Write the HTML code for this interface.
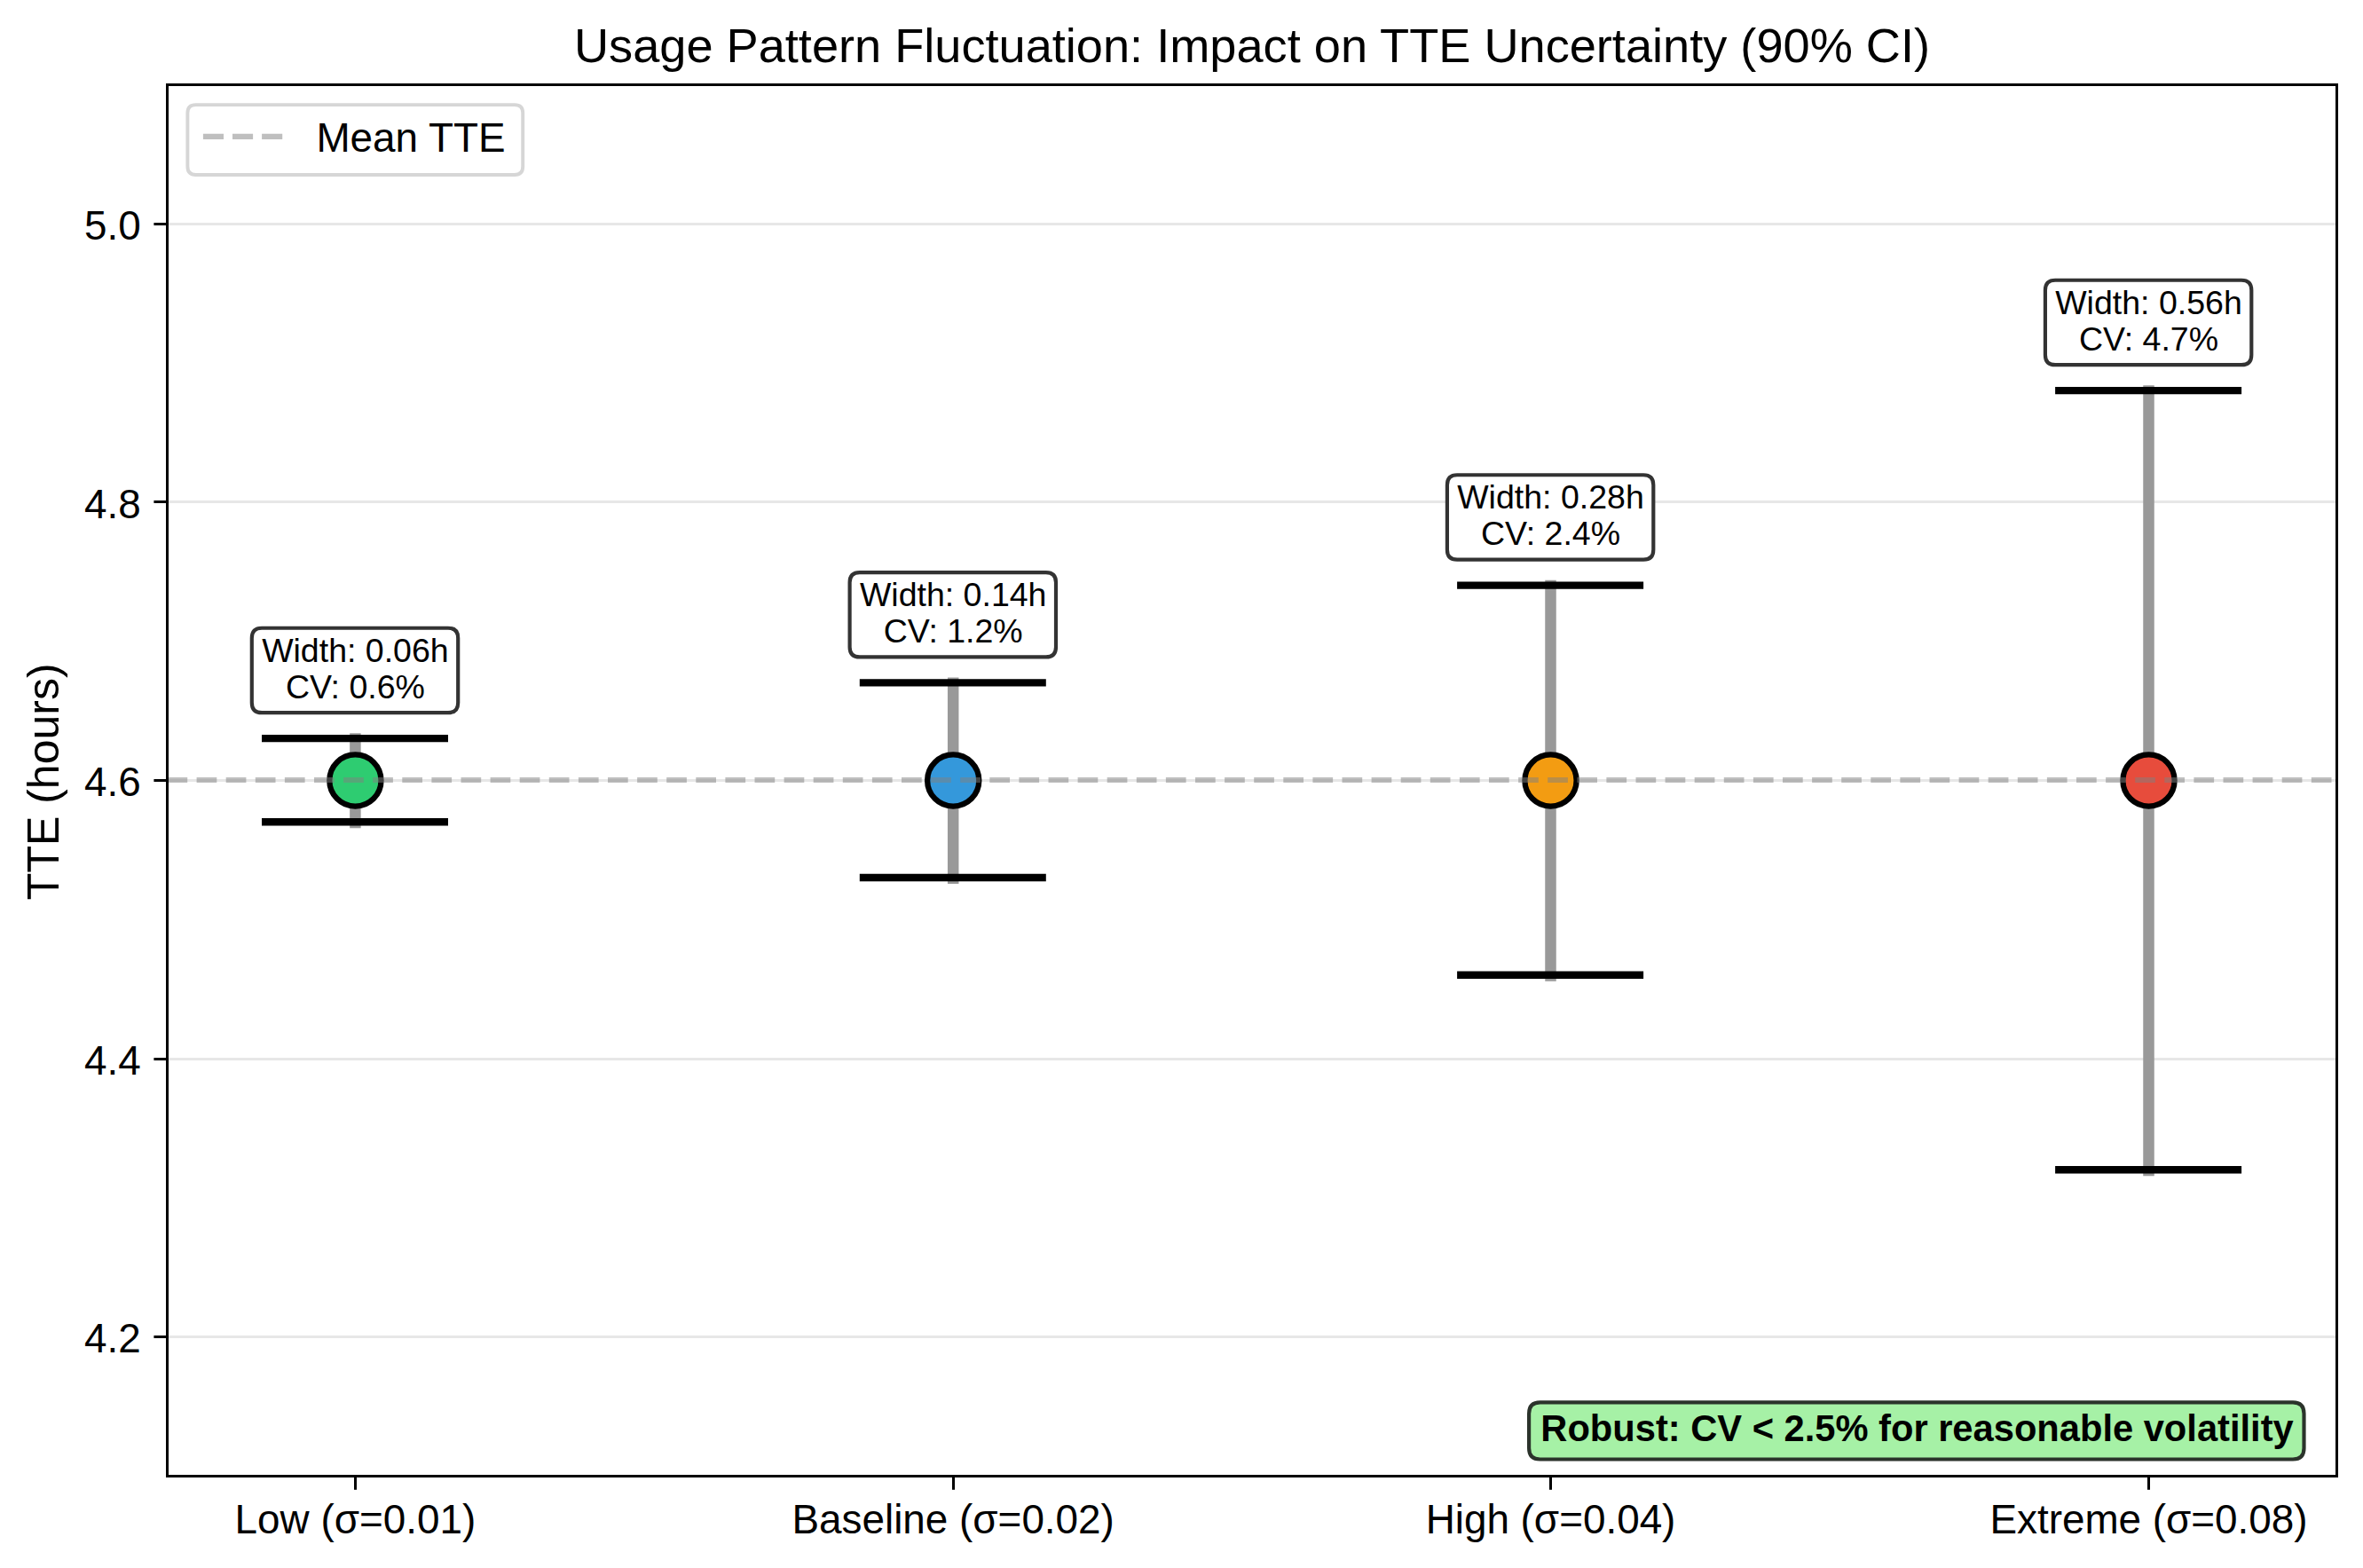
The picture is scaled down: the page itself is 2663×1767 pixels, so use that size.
<!DOCTYPE html>
<html lang="en"><head><meta charset="utf-8"><title>Usage Pattern Fluctuation</title>
<style>html,body{margin:0;padding:0;background:#fff}body{width:2663px;height:1767px;overflow:hidden}svg{display:block}text{font-family:'Liberation Sans', sans-serif;fill:#000}</style>
</head><body>
<svg width="2663" height="1767" viewBox="0 0 2663 1767">
<rect x="0" y="0" width="2663" height="1767" fill="#ffffff"/>
<g stroke="#e7e7e7" stroke-width="3" fill="none">
<line x1="188.50" y1="1506.50" x2="2633.50" y2="1506.50"/>
<line x1="188.50" y1="1193.50" x2="2633.50" y2="1193.50"/>
<line x1="188.50" y1="879.50" x2="2633.50" y2="879.50"/>
<line x1="188.50" y1="565.50" x2="2633.50" y2="565.50"/>
<line x1="188.50" y1="252.50" x2="2633.50" y2="252.50"/>
</g>
<g>
<line x1="400.40" y1="826.16" x2="400.40" y2="933.24" stroke="#999999" stroke-width="12.5"/>
<line x1="295.00" y1="832.16" x2="505.00" y2="832.16" stroke="#000" stroke-width="8.33"/>
<line x1="295.00" y1="926.24" x2="505.00" y2="926.24" stroke="#000" stroke-width="8.33"/>
<circle cx="400.40" cy="879.50" r="29.1" fill="#2ecc71" stroke="#000" stroke-width="6.3"/>
</g>
<g>
<line x1="1074.20" y1="763.44" x2="1074.20" y2="995.96" stroke="#999999" stroke-width="12.5"/>
<line x1="968.80" y1="769.44" x2="1178.80" y2="769.44" stroke="#000" stroke-width="8.33"/>
<line x1="968.80" y1="988.96" x2="1178.80" y2="988.96" stroke="#000" stroke-width="8.33"/>
<circle cx="1074.20" cy="879.50" r="29.1" fill="#3498db" stroke="#000" stroke-width="6.3"/>
</g>
<g>
<line x1="1747.50" y1="653.68" x2="1747.50" y2="1105.72" stroke="#999999" stroke-width="12.5"/>
<line x1="1642.10" y1="659.68" x2="1852.10" y2="659.68" stroke="#000" stroke-width="8.33"/>
<line x1="1642.10" y1="1098.72" x2="1852.10" y2="1098.72" stroke="#000" stroke-width="8.33"/>
<circle cx="1747.50" cy="879.50" r="29.1" fill="#f39c12" stroke="#000" stroke-width="6.3"/>
</g>
<g>
<line x1="2421.50" y1="434.16" x2="2421.50" y2="1325.24" stroke="#999999" stroke-width="12.5"/>
<line x1="2316.10" y1="440.16" x2="2526.10" y2="440.16" stroke="#000" stroke-width="8.33"/>
<line x1="2316.10" y1="1318.24" x2="2526.10" y2="1318.24" stroke="#000" stroke-width="8.33"/>
<circle cx="2421.50" cy="879.50" r="29.1" fill="#e74c3c" stroke="#000" stroke-width="6.3"/>
</g>
<line x1="188.50" y1="879.00" x2="2633.50" y2="879.00" stroke="#808080" stroke-opacity="0.5" stroke-width="6" stroke-dasharray="22.7 10.4"/>
<g>
<path d="M295.05 707.76L504.95 707.76Q516.20 707.76 516.20 719.01L516.20 791.91Q516.20 803.16 504.95 803.16L295.05 803.16Q283.80 803.16 283.80 791.91L283.80 719.01Q283.80 707.76 295.05 707.76Z" fill="#ffffff" stroke="#333333" stroke-width="4.17" stroke-linejoin="miter"/>
<text x="400.40" y="745.96" font-size="37.5" text-anchor="middle">Width: 0.06h</text>
<text x="400.40" y="786.51" font-size="37.5" text-anchor="middle">CV: 0.6%</text>
</g>
<g>
<path d="M968.85 645.04L1178.75 645.04Q1190.00 645.04 1190.00 656.29L1190.00 729.19Q1190.00 740.44 1178.75 740.44L968.85 740.44Q957.60 740.44 957.60 729.19L957.60 656.29Q957.60 645.04 968.85 645.04Z" fill="#ffffff" stroke="#333333" stroke-width="4.17" stroke-linejoin="miter"/>
<text x="1074.20" y="683.24" font-size="37.5" text-anchor="middle">Width: 0.14h</text>
<text x="1074.20" y="723.79" font-size="37.5" text-anchor="middle">CV: 1.2%</text>
</g>
<g>
<path d="M1642.15 535.28L1852.05 535.28Q1863.30 535.28 1863.30 546.53L1863.30 619.43Q1863.30 630.68 1852.05 630.68L1642.15 630.68Q1630.90 630.68 1630.90 619.43L1630.90 546.53Q1630.90 535.28 1642.15 535.28Z" fill="#ffffff" stroke="#333333" stroke-width="4.17" stroke-linejoin="miter"/>
<text x="1747.50" y="573.48" font-size="37.5" text-anchor="middle">Width: 0.28h</text>
<text x="1747.50" y="614.03" font-size="37.5" text-anchor="middle">CV: 2.4%</text>
</g>
<g>
<path d="M2316.15 315.76L2526.05 315.76Q2537.30 315.76 2537.30 327.01L2537.30 399.91Q2537.30 411.16 2526.05 411.16L2316.15 411.16Q2304.90 411.16 2304.90 399.91L2304.90 327.01Q2304.90 315.76 2316.15 315.76Z" fill="#ffffff" stroke="#333333" stroke-width="4.17" stroke-linejoin="miter"/>
<text x="2421.50" y="353.96" font-size="37.5" text-anchor="middle">Width: 0.56h</text>
<text x="2421.50" y="394.51" font-size="37.5" text-anchor="middle">CV: 4.7%</text>
</g>
<path d="M1735.60 1580.40L2584.00 1580.40Q2596.50 1580.40 2596.50 1592.90L2596.50 1632.00Q2596.50 1644.50 2584.00 1644.50L1735.60 1644.50Q1723.10 1644.50 1723.10 1632.00L1723.10 1592.90Q1723.10 1580.40 1735.60 1580.40Z" fill="#a6f1a6" stroke="#2b332b" stroke-width="4.17" stroke-linejoin="miter"/>
<text x="1736.3" y="1624.2" font-size="41.67" font-weight="bold">Robust: CV &lt; 2.5% for reasonable volatility</text>
<rect x="188.50" y="95.50" width="2445.00" height="1568.00" fill="none" stroke="#000" stroke-width="3"/>
<g stroke="#000" stroke-width="3">
<line x1="173.40" y1="1506.50" x2="188.50" y2="1506.50"/>
<line x1="173.40" y1="1193.50" x2="188.50" y2="1193.50"/>
<line x1="173.40" y1="879.50" x2="188.50" y2="879.50"/>
<line x1="173.40" y1="565.50" x2="188.50" y2="565.50"/>
<line x1="173.40" y1="252.50" x2="188.50" y2="252.50"/>
<line x1="400.50" y1="1663.50" x2="400.50" y2="1678.80"/>
<line x1="1074.50" y1="1663.50" x2="1074.50" y2="1678.80"/>
<line x1="1747.50" y1="1663.50" x2="1747.50" y2="1678.80"/>
<line x1="2421.50" y1="1663.50" x2="2421.50" y2="1678.80"/>
</g>
<g font-size="45.83">
<text x="158.7" y="1524.30" text-anchor="end">4.2</text>
<text x="158.7" y="1210.70" text-anchor="end">4.4</text>
<text x="158.7" y="897.10" text-anchor="end">4.6</text>
<text x="158.7" y="583.50" text-anchor="end">4.8</text>
<text x="158.7" y="269.90" text-anchor="end">5.0</text>
<text x="400.40" y="1728" text-anchor="middle">Low (σ=0.01)</text>
<text x="1074.20" y="1728" text-anchor="middle">Baseline (σ=0.02)</text>
<text x="1747.50" y="1728" text-anchor="middle">High (σ=0.04)</text>
<text x="2421.50" y="1728" text-anchor="middle">Extreme (σ=0.08)</text>
</g>
<text transform="translate(66.3 880.8) rotate(-90)" font-size="50" text-anchor="middle">TTE (hours)</text>
<text x="1411.0" y="69.9" font-size="54.17" text-anchor="middle">Usage Pattern Fluctuation: Impact on TTE Uncertainty (90% CI)</text>
<path d="M220.57 118.10L580.03 118.10Q589.20 118.10 589.20 127.27L589.20 187.83Q589.20 197.00 580.03 197.00L220.57 197.00Q211.40 197.00 211.40 187.83L211.40 127.27Q211.40 118.10 220.57 118.10Z" fill="#ffffff" stroke="#d6d6d6" stroke-width="3.9" stroke-linejoin="miter"/>
<line x1="228.9" y1="153.9" x2="320.6" y2="153.9" stroke="#bfbfbf" stroke-width="6.25" stroke-dasharray="23.1 10"/>
<text x="356.4" y="171.05" font-size="45.83">Mean TTE</text>
</svg>
</body></html>
